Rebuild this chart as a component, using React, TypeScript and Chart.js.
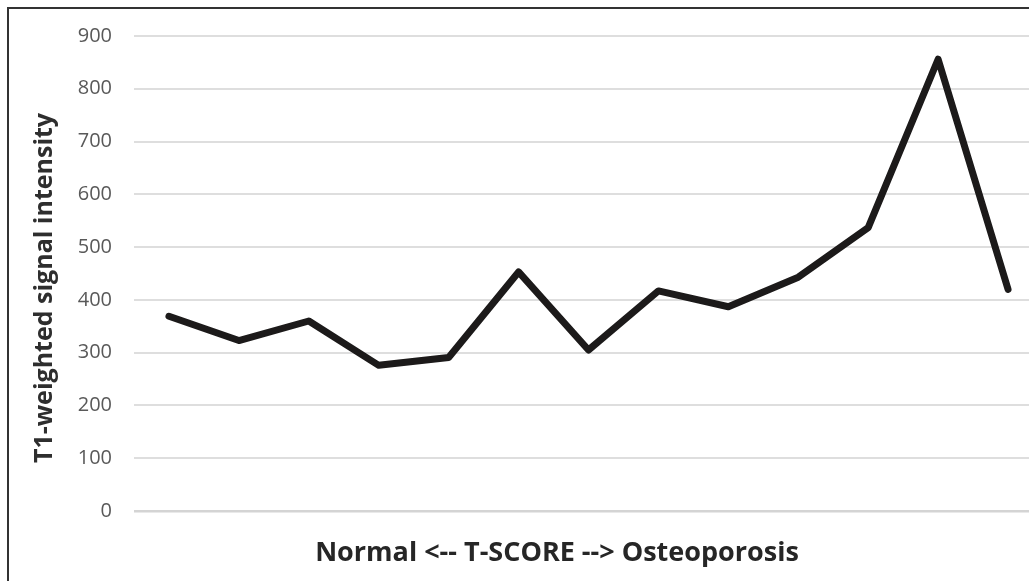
import React, { useEffect, useRef } from "react";
import { Chart, registerables } from "chart.js";

Chart.register(...registerables);

const categories = ["1", "2", "3", "4", "5", "6", "7", "8", "9", "10", "11", "12", "13"];
const signalIntensity = [369, 323, 360, 276, 291, 453, 305, 417, 387, 443, 537, 856, 420];
const yTicks = [0, 100, 200, 300, 400, 500, 600, 700, 800, 900];
const yTitle = "T1-weighted signal intensity";
const xTitle = "Normal <-- T-SCORE --> Osteoporosis";

const titlesPlugin = {
  id: "axisTitles",
  afterDraw(chart: any) {
    const ctx = chart.ctx;
    ctx.save();
    ctx.fillStyle = "#262626";
    ctx.textAlign = "center";
    ctx.textBaseline = "middle";
    ctx.font = "bold 27px 'Open Sans'";
    ctx.fillText(xTitle, 557, 553);
    ctx.translate(45, 288);
    ctx.rotate(-Math.PI / 2);
    ctx.fillStyle = "#2e2e2e";
    ctx.font = "bold 25px 'Open Sans'";
    ctx.fillText(yTitle, 0, 0);
    ctx.restore();
  },
};

export default function App() {
  const ref = useRef<HTMLCanvasElement | null>(null);

  useEffect(() => {
    if (!ref.current) return;
    const chart = new Chart(ref.current, {
      type: "line",
      data: {
        labels: categories,
        datasets: [
          {
            data: signalIntensity,
            borderColor: "#1c1a1a",
            borderWidth: 7,
            borderJoinStyle: "round",
            borderCapStyle: "round",
            pointRadius: 0,
            tension: 0,
            fill: false,
          },
        ],
      },
      plugins: [titlesPlugin],
      options: {
        animation: false,
        responsive: false,
        layout: { padding: { top: 36, right: 2, bottom: 0, left: 0 } },
        plugins: { legend: { display: false }, tooltip: { enabled: false } },
        scales: {
          x: {
            offset: true,
            grid: { display: false },
            border: { display: false },
            ticks: { display: false },
            afterFit: (scale: any) => {
              scale.height = 70;
            },
          },
          y: {
            min: 0,
            max: 900,
            afterBuildTicks: (scale: any) => {
              scale.ticks = yTicks.map((v) => ({ value: v }));
            },
            grid: {
              color: (ctx: any) => (ctx.tick && ctx.tick.value === 0 ? "#d4d4d4" : "#dedede"),
              lineWidth: (ctx: any) => (ctx.tick && ctx.tick.value === 0 ? 2.5 : 2),
              drawTicks: false,
            },
            border: { display: false },
            ticks: {
              color: "#595959",
              padding: 22,
              font: { family: "Open Sans", size: 20 },
            },
            afterFit: (scale: any) => {
              scale.width = 134;
            },
          },
        },
      },
    });
    return () => chart.destroy();
  }, []);

  return (
    <div
      style={{
        position: "fixed",
        left: 0,
        top: 0,
        width: 1029,
        height: 581,
        overflow: "hidden",
        background: "#ffffff",
      }}
    >
      <canvas ref={ref} width={1045} height={581} style={{ position: "absolute", left: 0, top: 0 }} />
      <div
        style={{
          position: "absolute",
          left: 7,
          top: 7,
          width: 1100,
          height: 700,
          borderLeft: "2px solid #333",
          borderTop: "2px solid #333",
          pointerEvents: "none",
        }}
      />
    </div>
  );
}
